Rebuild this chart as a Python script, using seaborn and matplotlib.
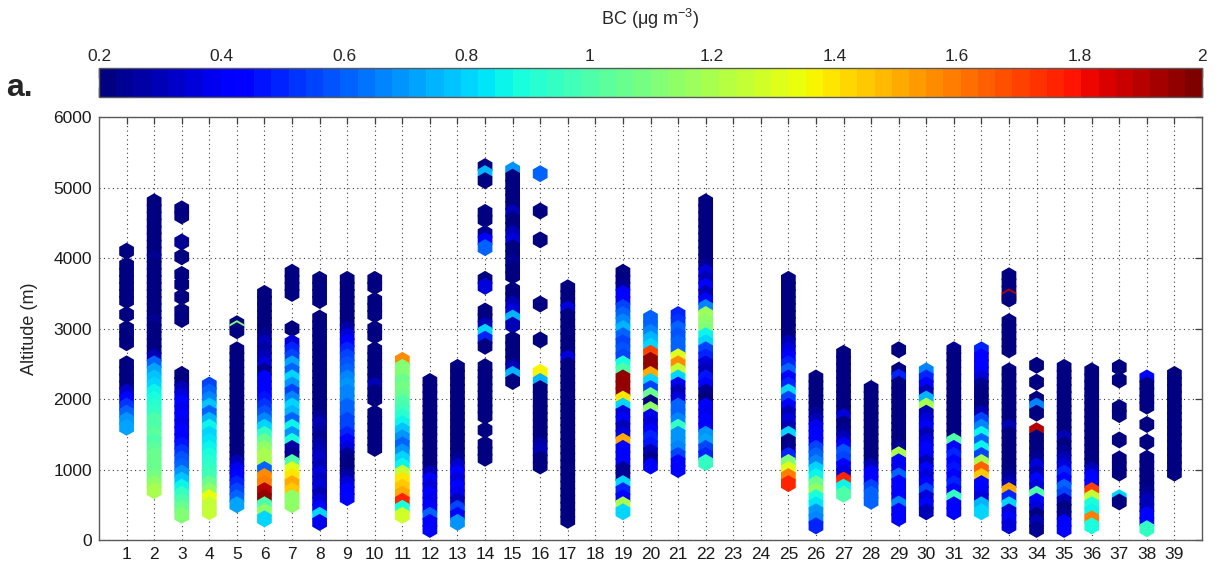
import matplotlib
matplotlib.use("Agg")
import matplotlib.pyplot as plt
from matplotlib.colors import Normalize
from matplotlib.cm import ScalarMappable
from matplotlib.ticker import FuncFormatter
import pandas as pd
import seaborn as sns

# Vertical BC profiles, one per flight.
# Each profile is a list of segments: (lowest altitude in m, BC values in ug/m3
# sampled every LEVEL_STEP metres upward).  Gaps between segments are altitudes
# without valid measurements.
LEVEL_STEP = 100

flight_01 = [
    (1600, [0.72, 0.68, 0.60, 0.52, 0.45, 0.32, 0.22, 0.20, 0.20, 0.20]),
    (2800, [0.20, 0.20, 0.20]),
    (3200, [0.20]),
    (3400, [0.20, 0.20, 0.20, 0.20, 0.20, 0.20]),
    (4100, [0.20]),
]
flight_02 = [
    (700, [1.20, 1.15, 1.08, 1.05, 1.07, 1.05, 1.03, 1.00, 1.02, 1.00,
           1.00, 0.95, 0.92, 0.88, 0.85, 0.80, 0.78, 0.72, 0.62, 0.30,
           0.20, 0.20, 0.20, 0.20, 0.25, 0.20, 0.20, 0.20, 0.20, 0.20,
           0.20, 0.20, 0.20, 0.25, 0.20, 0.20, 0.20, 0.20, 0.20, 0.20,
           0.20, 0.20]),
]
flight_03 = [
    (350, [1.12, 1.05, 1.00, 0.95, 0.85, 0.78, 0.70, 0.62, 0.58, 0.52,
           0.48, 0.42, 0.45, 0.38, 0.42, 0.38, 0.45, 0.35, 0.30, 0.22, 0.20]),
    (3130, [0.20]), (3250, [0.20]), (3450, [0.20]), (3630, [0.20]),
    (3770, [0.20]), (4020, [0.20]), (4230, [0.25]), (4600, [0.20, 0.20]),
]
flight_04 = [
    (400, [1.25, 1.25, 1.35, 1.15, 1.05, 0.98, 0.95, 0.92, 0.88, 0.85,
           0.82, 0.80, 0.85, 0.75, 0.62, 0.78, 0.65, 0.60, 0.55]),
]
flight_05 = [
    (500, [0.72, 0.62, 0.55, 0.50, 0.45, 0.38, 0.30, 0.22, 0.20, 0.20,
           0.20, 0.20, 0.20, 0.20, 0.20, 0.20, 0.20, 0.20, 0.20, 0.20,
           0.20, 0.20, 0.20]),
    (2970, [0.20]), (3000, [1.10]), (3070, [0.20]),
]
flight_06 = [
    (300, [0.80, 1.15, 1.00, 1.95, 1.90, 1.60, 1.55, 0.60, 1.20, 1.20,
           1.15, 1.05, 0.95, 0.80, 0.65, 0.58, 0.52, 0.48, 0.45, 0.42,
           0.45, 0.25, 0.35, 0.30, 0.28, 0.30, 0.25, 0.20, 0.20, 0.20,
           0.20, 0.20, 0.20]),
]
flight_07 = [
    (500, [1.15, 1.15, 1.45, 1.50, 1.40, 1.30, 1.00, 0.25, 0.28, 0.90,
           0.70, 0.85, 0.60, 0.75, 0.80, 0.65, 0.55, 0.70, 0.80, 0.60,
           0.72, 0.55, 0.50, 0.35]),
    (3000, [0.20]),
    (3500, [0.20, 0.20, 0.20, 0.20]),
]
flight_08 = [
    (250, [0.38, 0.80, 0.40, 0.35, 0.30, 0.36, 0.32, 0.35, 0.30, 0.33,
           0.30, 0.28, 0.25, 0.28, 0.30, 0.25, 0.22, 0.20, 0.20, 0.20,
           0.20, 0.20, 0.20, 0.20, 0.20, 0.20, 0.20, 0.20, 0.20, 0.20]),
    (3400, [0.20, 0.20, 0.20, 0.20]),
]
flight_09 = [
    (600, [0.45, 0.40, 0.35, 0.28, 0.22, 0.22, 0.25, 0.35, 0.45, 0.50,
           0.55, 0.55, 0.60, 0.62, 0.65, 0.65, 0.68, 0.65, 0.62, 0.58,
           0.55, 0.50, 0.42, 0.35, 0.28, 0.22, 0.20, 0.20, 0.20, 0.20,
           0.20, 0.20]),
]
flight_10 = [
    (1300, [0.20, 0.20, 0.20, 0.20, 0.20, 0.20]),
    (2000, [0.20, 0.20, 0.30, 0.20, 0.20, 0.20, 0.20, 0.20]),
    (2900, [0.20, 0.20]),
    (3200, [0.20, 0.20, 0.20]),
    (3600, [0.20, 0.20]),
]
flight_11 = [
    (350, [1.28, 0.90, 1.75, 1.50, 1.45, 1.40, 1.25, 0.85, 0.80, 0.70,
           0.62, 0.68, 0.78, 0.85, 0.92, 0.98, 1.00, 1.05, 1.08, 1.05,
           1.10, 1.12, 1.55]),
]
flight_12 = [
    (150, [0.45, 0.40, 0.60, 0.42, 0.38, 0.42, 0.35, 0.40, 0.30, 0.22,
           0.20, 0.20, 0.20, 0.20, 0.20, 0.20, 0.20, 0.20, 0.20, 0.20,
           0.20, 0.20]),
]
flight_13 = [
    (250, [0.68, 0.45, 0.55, 0.30, 0.38, 0.45, 0.35, 0.42, 0.32, 0.25,
           0.22, 0.20, 0.20, 0.20, 0.20, 0.20, 0.20, 0.20, 0.20, 0.20,
           0.20, 0.20, 0.20]),
]
flight_14 = [
    (1160, [0.20, 0.20, 0.20]),
    (1560, [0.20]),
    (1760, [0.20, 0.20, 0.20, 0.20, 0.20, 0.20, 0.20, 0.20]),
    (2750, [0.20, 0.50, 0.80, 0.30, 0.20, 0.20]),
    (3600, [0.35, 0.20]),
    (4150, [0.60, 0.40, 0.25]),
    (4550, [0.20, 0.20]),
    (5100, [0.20, 0.75, 0.20]),
]
flight_15 = [
    (2250, [0.20, 0.75, 0.30, 0.20, 0.20, 0.20, 0.20]),
    (3050, [0.30, 0.75, 0.35, 0.30, 0.20, 0.20]),
    (3750, [0.20, 0.20, 0.25, 0.20, 0.20, 0.35, 0.30, 0.20, 0.20, 0.30,
            0.20, 0.20, 0.20, 0.20, 0.22, 0.70]),
]
flight_16 = [
    (1050, [0.20, 0.20, 0.30, 0.28, 0.20, 0.20, 0.20, 0.20, 0.20, 0.20,
            0.20, 0.20, 0.75]),
    (2380, [1.38]), (2840, [0.20]), (3350, [0.20]), (4260, [0.20]),
    (4670, [0.20]), (5200, [0.62]),
]
flight_17 = [
    (280, [0.20, 0.20, 0.20, 0.20, 0.20, 0.20, 0.20, 0.20, 0.20, 0.20,
           0.20, 0.20, 0.20, 0.20, 0.20, 0.20, 0.20, 0.20, 0.20, 0.20,
           0.20, 0.20, 0.20, 0.35, 0.20, 0.20, 0.20, 0.20, 0.20, 0.20,
           0.35, 0.20, 0.20, 0.20]),
]
flight_18 = []
flight_19 = [
    (400, [0.80, 1.20, 0.45, 0.50, 0.80, 0.25, 0.25, 0.40, 0.42, 0.40,
           1.50, 0.35, 0.30, 0.40, 0.35, 0.80, 1.40, 1.95, 1.95, 1.95,
           1.00, 0.90, 0.55, 0.58, 0.55, 0.60, 0.75, 0.65, 0.60, 0.55,
           0.45, 0.40, 0.25, 0.20, 0.20]),
]
flight_20 = [
    (1050, [0.40, 0.25, 0.30, 0.48, 0.50, 0.40, 0.35, 0.38, 1.15, 0.22,
            1.05, 0.55, 0.80, 1.50, 1.95, 1.95, 1.70, 0.80, 0.75, 0.65,
            0.60, 0.60]),
]
flight_21 = [
    (1000, [0.45, 0.45, 0.55, 0.65, 0.70, 0.68, 0.95, 0.65, 0.62, 0.60,
            0.35, 0.30, 0.38, 0.80, 1.25, 1.55, 1.30, 0.62, 0.60, 0.58,
            0.60, 0.52, 0.50]),
]
flight_22 = [
    (1100, [0.95, 0.50, 0.55, 0.72, 0.68, 0.40, 0.45, 0.38, 0.40, 0.22,
            0.25, 0.45, 0.48, 0.30, 0.35, 0.50, 0.55, 0.80, 0.85, 1.10,
            1.15, 1.18, 0.65, 0.45, 0.30, 0.40, 0.30, 0.35, 0.25, 0.20,
            0.20, 0.20, 0.20, 0.20, 0.20, 0.20, 0.20, 0.20]),
]
flight_23 = []
flight_24 = []
flight_25 = [
    (800, [1.75, 1.60, 1.30, 1.10, 0.50, 0.25, 0.22, 0.80, 0.30, 0.35,
           0.30, 0.45, 0.55, 0.80, 0.50, 0.45, 0.60, 0.50, 0.40, 0.35,
           0.30, 0.20, 0.20, 0.20, 0.20, 0.20, 0.20, 0.20, 0.20, 0.20]),
]
flight_26 = [
    (200, [0.50, 0.65, 0.70, 0.82, 0.88, 1.15, 1.05, 0.85, 0.80, 0.65,
           0.60, 0.55, 0.45, 0.40, 0.38, 0.30, 0.25, 0.20, 0.20, 0.20,
           0.20, 0.20]),
]
flight_27 = [
    (650, [1.00, 0.85, 1.75, 0.35, 0.40, 0.55, 0.58, 0.40, 0.30, 0.25,
           0.22, 0.35, 0.20, 0.20, 0.20, 0.20, 0.20, 0.20, 0.20, 0.20, 0.20]),
]
flight_28 = [
    (550, [0.62, 0.60, 0.55, 0.45, 0.40, 0.30, 0.22, 0.20, 0.20, 0.20,
           0.20, 0.20, 0.20, 0.20, 0.20, 0.20, 0.20]),
]
flight_29 = [
    (310, [0.45, 0.40, 0.65, 0.40, 0.45, 0.42, 0.60, 0.38, 0.45, 1.20,
           0.25, 0.20, 0.20, 0.20, 0.20, 0.20, 0.20, 0.20, 0.20, 0.22,
           0.50, 0.20]),
    (2700, [0.20]),
]
flight_30 = [
    (400, [0.30, 0.45, 0.35, 0.55, 0.40, 0.35, 0.45, 0.30, 0.40, 0.45,
           0.35, 0.30, 0.40, 0.35, 0.30, 1.20, 0.75, 0.30, 0.40, 0.50, 0.65]),
]
flight_31 = [
    (400, [0.45, 0.40, 0.95, 0.45, 0.50, 0.42, 0.48, 0.45, 0.50, 0.45,
           1.00, 0.20, 0.20, 0.20, 0.20, 0.22, 0.20, 0.20, 0.20, 0.20,
           0.20, 0.20, 0.20, 0.25]),
]
flight_32 = [
    (400, [0.80, 0.75, 0.35, 0.40, 0.45, 1.45, 1.65, 1.20, 0.55, 0.85,
           0.60, 0.85, 0.65, 0.55, 0.30, 0.22, 0.20, 0.20, 0.25, 0.35,
           0.40, 0.45, 0.40, 0.50]),
]
flight_33 = [
    (200, [0.35, 0.45, 0.35, 0.80, 0.50, 1.50, 0.30, 0.25, 0.20, 0.20,
           0.20, 0.20, 0.20, 0.20, 0.30, 0.20, 0.20, 0.20, 0.20, 0.20,
           0.20, 0.20, 0.20]),
    (2700, [0.20, 0.20, 0.20, 0.20, 0.20]),
    (3420, [0.20]), (3450, [1.90]),
    (3550, [0.20, 0.20, 0.20]),
]
flight_34 = [
    (150, [0.25, 0.30, 0.22, 0.35, 0.40, 1.00, 0.35, 0.45, 0.30, 0.35,
           0.25, 0.22, 0.20, 0.20, 1.90]),
    (1800, [0.20, 0.65, 0.20]),
    (2240, [0.20]), (2480, [0.20]),
]
flight_35 = [
    (150, [0.45, 0.40, 0.25, 0.22, 0.30, 0.55, 0.60, 0.45, 0.50, 0.35,
           0.30, 0.25, 0.22, 0.30, 0.22, 0.20, 0.20, 0.20, 0.20, 0.20,
           0.20, 0.20, 0.20, 0.20]),
]
flight_36 = [
    (200, [0.90, 1.60, 0.85, 0.90, 1.25, 1.70, 0.45, 0.40, 0.30, 0.22,
           0.20, 0.20, 0.20, 0.20, 0.20, 0.20, 0.20, 0.20, 0.20, 0.20,
           0.20, 0.20, 0.20]),
]
flight_37 = [
    (540, [0.20]), (600, [0.80]), (950, [0.20, 0.20, 0.20]), (1420, [0.20]),
    (1780, [0.20, 0.20]), (2270, [0.20]), (2450, [0.20]),
]
flight_38 = [
    (160, [0.95, 0.40, 0.45, 0.30, 0.30, 0.25, 0.20, 0.20, 0.20, 0.20, 0.20]),
    (1390, [0.20]), (1640, [0.20]),
    (1900, [0.20, 0.20, 0.20, 0.20, 0.45]),
]
flight_39 = [
    (950, [0.20, 0.20, 0.20, 0.20, 0.20, 0.20, 0.20, 0.20, 0.20, 0.20,
           0.20, 0.20, 0.20, 0.20, 0.20]),
]

profiles = [
    flight_01, flight_02, flight_03, flight_04, flight_05, flight_06,
    flight_07, flight_08, flight_09, flight_10, flight_11, flight_12,
    flight_13, flight_14, flight_15, flight_16, flight_17, flight_18,
    flight_19, flight_20, flight_21, flight_22, flight_23, flight_24,
    flight_25, flight_26, flight_27, flight_28, flight_29, flight_30,
    flight_31, flight_32, flight_33, flight_34, flight_35, flight_36,
    flight_37, flight_38, flight_39,
]
flight_numbers = list(range(1, 40))
altitude_ticks = [0, 1000, 2000, 3000, 4000, 5000, 6000]
bc_ticks = [0.2, 0.4, 0.6, 0.8, 1.0, 1.2, 1.4, 1.6, 1.8, 2.0]
bc_range = (0.2, 2.0)

# Long-format table: one row per sample
rows = []
for flight, segments in zip(flight_numbers, profiles):
    for base, values in segments:
        for i, bc in enumerate(values):
            rows.append((flight, base + LEVEL_STEP * i, bc))
df = pd.DataFrame(rows, columns=["flight", "altitude", "bc"])
# draw each profile from the top down so lower samples sit on top
df = df.sort_values(["flight", "altitude"], ascending=[True, False], kind="stable")

sns.set_theme(style="white")
plt.rcParams["font.family"] = ["Liberation Sans", "DejaVu Sans"]
plt.rcParams["mathtext.fontset"] = "custom"
plt.rcParams["mathtext.rm"] = "Liberation Sans"
plt.rcParams["mathtext.it"] = "Liberation Sans:italic"

W, H = 1216, 569
fig = plt.figure(figsize=(W / 100, H / 100), dpi=100)
ax = fig.add_axes([99 / W, 29 / H, 1103 / W, 422.7 / H])

cmap = matplotlib.colormaps["jet"].resampled(64)
norm = Normalize(*bc_range)

sns.scatterplot(
    data=df, x="flight", y="altitude", hue="bc",
    palette=cmap, hue_norm=norm, marker="h", s=150,
    linewidth=0, edgecolor="none", legend=False, ax=ax, zorder=3,
)

ax.set_xlim(0, 40)
ax.set_ylim(0, 6000)
ax.set_xticks(flight_numbers)
ax.set_yticks(altitude_ticks)
ax.set_xlabel("")
ax.set_ylabel("Altitude (m)", fontsize=13)
ax.yaxis.set_label_coords((38 - 99) / 1103, 0.5)
ax.set_axisbelow(True)
ax.grid(True, color="k", linestyle=(0, (1, 3)), linewidth=0.8, alpha=0.85)
ax.tick_params(direction="in", top=True, right=True, length=5, width=0.9,
               color="0.25", labelsize=12.5, labelcolor="k", pad=5)
for side in ax.spines.values():
    side.set_color("0.35")
    side.set_linewidth(1.0)

# Horizontal colour bar above the panel
cax = fig.add_axes([99 / W, 1 - 97 / H, 1103 / W, 29 / H])
cb = fig.colorbar(ScalarMappable(norm=norm, cmap=cmap), cax=cax,
                  orientation="horizontal", ticks=bc_ticks)
cax.xaxis.set_ticks_position("both")
cax.tick_params(axis="x", direction="in", length=7, width=1.0, color="k",
                labeltop=True, labelbottom=False, labelsize=12.5, pad=3)
cax.xaxis.set_major_formatter(FuncFormatter(lambda v, _: f"{v:g}"))
cb.outline.set_edgecolor("0.35")
cb.outline.set_linewidth(1.0)

fig.text(0.535, 1 - 19 / H, "BC (μg m$^{-3}$)", ha="center", va="center",
         fontsize=13)
fig.text(6 / W, 1 - 96 / H, "a.", ha="left", va="baseline", fontsize=23,
         fontweight="bold")

fig.savefig("out.png", dpi=100)
